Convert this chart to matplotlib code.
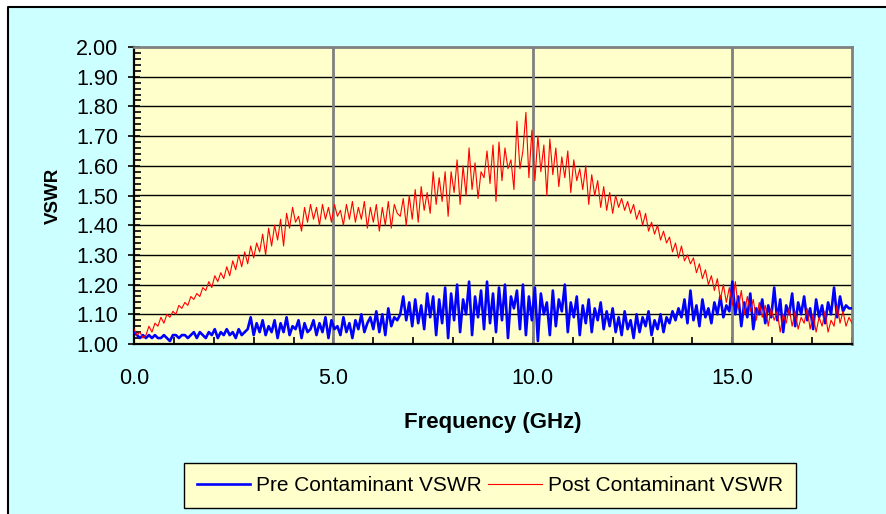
import numpy as np
import matplotlib.pyplot as plt
from matplotlib.patches import Rectangle
from matplotlib.lines import Line2D
from matplotlib.ticker import MultipleLocator, FormatStrFormatter

# sweep limits, GHz (evenly stepped sweep points)
freq_start, freq_stop = 0.0, 18.0

pre_vswr = [
    1.04, 1.03, 1.02, 1.03, 1.02, 1.03, 1.02, 1.03, 1.02, 1.02, 1.03, 1.02, 1.01, 1.03, 1.03, 1.02, 1.03, 1.03, 1.02, 1.03,
    1.04, 1.02, 1.04, 1.03, 1.02, 1.04, 1.03, 1.05, 1.02, 1.04, 1.03, 1.05, 1.03, 1.04, 1.02, 1.05, 1.03, 1.04, 1.05, 1.09,
    1.03, 1.07, 1.04, 1.08, 1.03, 1.06, 1.04, 1.08, 1.02, 1.07, 1.04, 1.09, 1.03, 1.06, 1.05, 1.08, 1.02, 1.07, 1.04, 1.05,
    1.08, 1.03, 1.07, 1.04, 1.09, 1.02, 1.08, 1.05, 1.06, 1.03, 1.09, 1.04, 1.07, 1.02, 1.08, 1.05, 1.10, 1.04, 1.07, 1.09,
    1.05, 1.11, 1.04, 1.10, 1.03, 1.12, 1.06, 1.09, 1.08, 1.10, 1.16, 1.08, 1.14, 1.06, 1.15, 1.07, 1.13, 1.05, 1.17, 1.09,
    1.16, 1.03, 1.15, 1.07, 1.19, 1.02, 1.17, 1.08, 1.20, 1.04, 1.15, 1.10, 1.21, 1.03, 1.16, 1.09, 1.18, 1.05, 1.21, 1.07,
    1.17, 1.04, 1.19, 1.08, 1.20, 1.02, 1.16, 1.12, 1.18, 1.05, 1.20, 1.03, 1.16, 1.08, 1.19, 1.01, 1.17, 1.10, 1.14, 1.03,
    1.18, 1.06, 1.15, 1.11, 1.20, 1.04, 1.14, 1.09, 1.16, 1.03, 1.13, 1.07, 1.15, 1.04, 1.12, 1.08, 1.14, 1.05, 1.11, 1.06,
    1.12, 1.04, 1.09, 1.03, 1.11, 1.05, 1.08, 1.02, 1.10, 1.04, 1.09, 1.06, 1.11, 1.03, 1.08, 1.05, 1.10, 1.04, 1.09, 1.07,
    1.11, 1.08, 1.12, 1.09, 1.15, 1.07, 1.18, 1.08, 1.13, 1.06, 1.15, 1.09, 1.12, 1.07, 1.14, 1.10, 1.16, 1.09, 1.13, 1.11,
    1.21, 1.10, 1.16, 1.06, 1.14, 1.09, 1.17, 1.05, 1.12, 1.10, 1.15, 1.07, 1.13, 1.09, 1.19, 1.08, 1.15, 1.04, 1.13, 1.10,
    1.17, 1.06, 1.14, 1.10, 1.16, 1.08, 1.12, 1.05, 1.15, 1.09, 1.13, 1.07, 1.14, 1.10, 1.19, 1.09, 1.16, 1.11, 1.13, 1.12, 1.12,
]

post_vswr = [
    1.05, 1.03, 1.04, 1.02, 1.03, 1.06, 1.04, 1.07, 1.06, 1.09, 1.07, 1.10, 1.09, 1.11, 1.10, 1.13, 1.12, 1.14, 1.13, 1.16,
    1.15, 1.17, 1.16, 1.19, 1.18, 1.21, 1.19, 1.23, 1.21, 1.24, 1.22, 1.26, 1.23, 1.28, 1.25, 1.30, 1.26, 1.31, 1.27, 1.33,
    1.29, 1.34, 1.31, 1.37, 1.30, 1.39, 1.33, 1.40, 1.35, 1.42, 1.33, 1.44, 1.39, 1.46, 1.41, 1.43, 1.38, 1.46, 1.41, 1.47,
    1.42, 1.46, 1.40, 1.47, 1.42, 1.46, 1.41, 1.47, 1.43, 1.45, 1.40, 1.47, 1.42, 1.48, 1.41, 1.46, 1.42, 1.48, 1.39, 1.46,
    1.41, 1.47, 1.38, 1.46, 1.40, 1.48, 1.39, 1.47, 1.44, 1.43, 1.49, 1.40, 1.50, 1.42, 1.52, 1.41, 1.53, 1.45, 1.51, 1.44,
    1.58, 1.47, 1.56, 1.48, 1.58, 1.43, 1.58, 1.51, 1.62, 1.47, 1.60, 1.50, 1.66, 1.52, 1.61, 1.49, 1.58, 1.56, 1.65, 1.54,
    1.67, 1.48, 1.68, 1.55, 1.66, 1.59, 1.62, 1.52, 1.75, 1.59, 1.65, 1.78, 1.56, 1.72, 1.55, 1.70, 1.58, 1.67, 1.50, 1.69,
    1.57, 1.66, 1.53, 1.63, 1.56, 1.65, 1.51, 1.62, 1.55, 1.59, 1.52, 1.60, 1.47, 1.57, 1.50, 1.55, 1.46, 1.53, 1.45, 1.51,
    1.44, 1.50, 1.46, 1.49, 1.45, 1.48, 1.44, 1.47, 1.42, 1.45, 1.40, 1.44, 1.38, 1.41, 1.37, 1.40, 1.35, 1.38, 1.34, 1.36,
    1.31, 1.34, 1.29, 1.33, 1.28, 1.30, 1.27, 1.29, 1.24, 1.27, 1.22, 1.25, 1.20, 1.23, 1.18, 1.22, 1.15, 1.20, 1.14, 1.19,
    1.13, 1.21, 1.12, 1.18, 1.10, 1.16, 1.11, 1.15, 1.08, 1.14, 1.09, 1.13, 1.06, 1.12, 1.08, 1.11, 1.04, 1.10, 1.07, 1.12,
    1.06, 1.11, 1.05, 1.09, 1.07, 1.12, 1.05, 1.10, 1.04, 1.09, 1.06, 1.11, 1.04, 1.08, 1.06, 1.13, 1.07, 1.11, 1.06, 1.09, 1.07,
]

freq = np.linspace(freq_start, freq_stop, len(pre_vswr))

plt.rcParams['font.family'] = ['Liberation Sans', 'DejaVu Sans']

W, H = 886, 514
fig = plt.figure(figsize=(W / 100, H / 100), dpi=100)
fig.patch.set_facecolor('white')

# chart area background, dark border only on top and left
x0, y0 = 8 / W, 1 - 7 / H
fig.add_artist(Rectangle((x0, 0), 1 - x0, y0, transform=fig.transFigure,
                         facecolor='#CCFFFF', edgecolor='none', zorder=-10))
fig.add_artist(Line2D([x0, x0, 1], [0, y0, y0], transform=fig.transFigure,
                      color='black', linewidth=1.5, zorder=-9))

ax = fig.add_axes([134 / W, 1 - 344 / H, (852 - 134) / W, (344 - 47) / H])
ax.set_facecolor('#FFFFCC')

ax.plot(freq, pre_vswr, color='#0000FF', linewidth=1.9, label='Pre Contaminant VSWR', zorder=3)
ax.plot(freq, post_vswr, color='#FF0000', linewidth=0.8, label='Post Contaminant VSWR', zorder=4)

ax.set_xlim(0, 18)
ax.set_ylim(1.0, 2.0)

ax.yaxis.set_major_locator(MultipleLocator(0.1))
ax.yaxis.set_minor_locator(MultipleLocator(0.02))
ax.yaxis.set_major_formatter(FormatStrFormatter('%.2f'))
ax.xaxis.set_major_locator(MultipleLocator(5))
ax.xaxis.set_minor_locator(MultipleLocator(1))
ax.xaxis.set_major_formatter(FormatStrFormatter('%.1f'))

ax.tick_params(axis='y', which='major', direction='inout', length=9, width=1.2, labelsize=15.5, pad=7)
ax.tick_params(axis='y', which='minor', direction='in', length=5, width=1.2)
ax.tick_params(axis='x', which='both', direction='in', length=5, width=1.2, labelsize=15.5, pad=17)

# horizontal grid in black, vertical grid in gray
for v in np.arange(1.1, 2.0, 0.1):
    ax.axhline(v, color='black', linewidth=1.0, zorder=1)
for v in (5, 10, 15):
    ax.axvline(v, color='#808080', linewidth=2.0, zorder=2)

for side in ('left', 'bottom'):
    ax.spines[side].set_color('black')
    ax.spines[side].set_linewidth(1.6)
for side in ('top', 'right'):
    ax.spines[side].set_color('#808080')
    ax.spines[side].set_linewidth(2.0)

ax.set_ylabel('VSWR', fontsize=13.5, fontweight='bold', labelpad=10)
ax.set_xlabel('Frequency (GHz)', fontsize=16, fontweight='bold', labelpad=17)

leg = ax.legend(loc='center', bbox_to_anchor=(490 / W, 1 - 485.5 / H), bbox_transform=fig.transFigure,
                ncol=2, fontsize=15, frameon=True, fancybox=False, handlelength=2.55,
                handletextpad=0.3, columnspacing=0.3, borderpad=0.62, borderaxespad=0)
leg.get_frame().set_edgecolor('black')
leg.get_frame().set_facecolor('#FFFFCC')
leg.get_frame().set_linewidth(1.0)
leg.get_frame().set_alpha(None)

fig.savefig('out.png', dpi=100)
